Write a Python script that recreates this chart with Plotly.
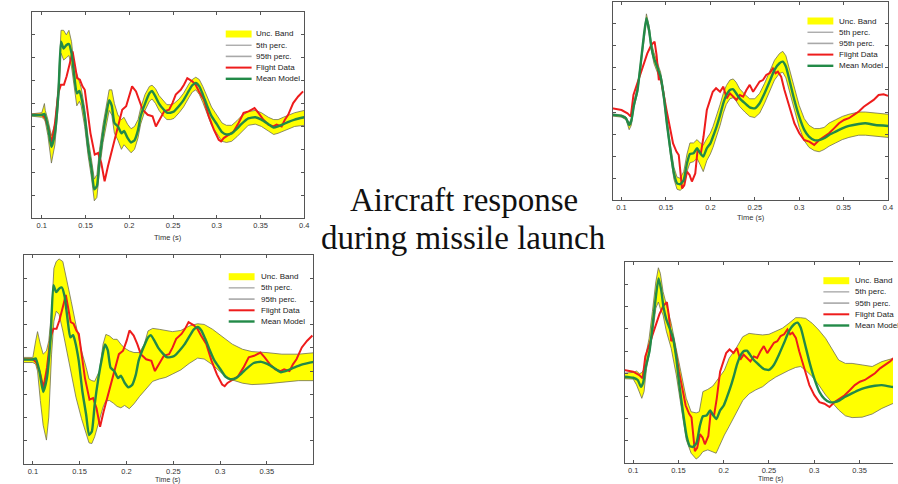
import plotly.graph_objects as go

W, H = 898, 484

# ---------------- data (arbitrary response units, 0..9 per panel) ----------------
# Case A (left panels): mean model, uncertainty band (narrow = top, wide = bottom), flight data
t_mean_a = [0.088, 0.100, 0.103, 0.104, 0.107, 0.111, 0.115, 0.119, 0.122, 0.125,
            0.128, 0.131, 0.134, 0.137, 0.140, 0.143, 0.145, 0.149, 0.153, 0.157,
            0.160, 0.163, 0.166, 0.170, 0.174, 0.177, 0.180, 0.183, 0.187, 0.191,
            0.194, 0.198, 0.202, 0.206, 0.210, 0.213, 0.218, 0.223, 0.226, 0.230,
            0.234, 0.239, 0.243, 0.247, 0.251, 0.257, 0.262, 0.268, 0.272, 0.276,
            0.280, 0.284, 0.289, 0.294, 0.300, 0.306, 0.311, 0.317, 0.323, 0.328,
            0.336, 0.344, 0.351, 0.359, 0.365, 0.370, 0.376, 0.382, 0.389, 0.400]
mean_a = [4.5, 4.5, 4.55, 4.45, 4.0, 3.1, 3.7, 5.45, 7.7, 7.4,
          7.55, 7.6, 7.2, 6.25, 5.45, 5.55, 5.3, 4.45, 3.1, 2.1,
          1.25, 1.4, 2.55, 3.7, 4.6, 5.15, 4.9, 4.15, 4.0, 3.7,
          3.8, 3.5, 3.3, 3.4, 3.85, 4.45, 5.0, 5.45, 5.55, 5.3,
          5.0, 4.75, 4.6, 4.6, 4.65, 4.9, 5.15, 5.55, 5.8, 5.9,
          5.75, 5.4, 4.9, 4.45, 4.1, 3.75, 3.65, 3.7, 3.9, 4.1,
          4.35, 4.4, 4.3, 4.1, 3.95, 4.0, 4.1, 4.2, 4.3, 4.4]
p5_a_narrow = [4.45, 4.4, 4.3, 4.2, 3.6, 2.4, 3.2, 5.0, 7.2, 6.9,
               7.0, 7.1, 6.6, 5.8, 4.9, 5.1, 4.9, 4.0, 2.7, 1.7,
               0.75, 0.9, 2.1, 3.3, 4.2, 4.7, 4.5, 3.7, 3.4, 3.0,
               3.2, 3.0, 2.85, 3.0, 3.5, 4.1, 4.7, 5.1, 5.2, 5.0,
               4.7, 4.45, 4.3, 4.3, 4.35, 4.6, 4.85, 5.25, 5.5, 5.6,
               5.4, 5.05, 4.5, 4.05, 3.7, 3.35, 3.3, 3.35, 3.55, 3.75,
               4.05, 4.1, 4.0, 3.8, 3.65, 3.7, 3.8, 3.9, 4.0, 4.05]
p95_a_narrow = [4.55, 4.6, 5.0, 4.7, 4.3, 3.6, 4.1, 5.9, 8.2, 8.2,
                8.0, 8.2, 7.7, 6.6, 6.3, 5.9, 5.7, 4.8, 3.5, 2.5,
                1.7, 1.9, 3.0, 4.1, 5.0, 5.6, 5.6, 5.0, 4.5, 4.3,
                4.4, 4.1, 3.9, 4.0, 4.3, 4.8, 5.4, 5.75, 5.8, 5.65,
                5.35, 5.1, 4.95, 4.95, 5.0, 5.2, 5.45, 5.85, 6.05, 6.15,
                6.05, 5.75, 5.3, 4.85, 4.5, 4.15, 4.05, 4.05, 4.25, 4.45,
                4.65, 4.7, 4.6, 4.4, 4.3, 4.3, 4.4, 4.5, 4.6, 4.7]
t_band_a_wide = [0.088, 0.100, 0.103, 0.105, 0.108, 0.111, 0.1145, 0.117, 0.120, 0.1225,
                 0.125, 0.128, 0.132, 0.136, 0.141, 0.146, 0.152, 0.157, 0.160, 0.163,
                 0.166, 0.171, 0.175, 0.178, 0.182, 0.186, 0.190, 0.194, 0.198, 0.203,
                 0.208, 0.214, 0.219, 0.223, 0.228, 0.235, 0.242, 0.249, 0.258, 0.267,
                 0.276, 0.283, 0.292, 0.302, 0.313, 0.324, 0.334, 0.349, 0.366, 0.384, 0.400]
p5_a_wide = [4.37, 4.37, 4.3, 4.0, 2.73, 1.67, 1.03, 2.02, 4.73, 6.15,
             6.58, 6.44, 5.73, 4.87, 3.87, 2.88, 1.95, 1.24, 0.91, 0.88,
             1.17, 1.88, 2.45, 2.73, 2.73, 2.62, 2.48, 2.42, 2.52, 2.38,
             2.59, 2.91, 3.16, 3.33, 3.56, 3.66, 3.73, 3.87, 4.05, 4.33,
             4.56, 4.52, 4.27, 3.9, 3.62, 3.48, 3.42, 3.45, 3.52, 3.59, 3.59]
p95_a_wide = [4.59, 4.59, 5.3, 5.7, 5.16, 4.73, 4.87, 5.3, 6.58, 8.43,
              8.72, 8.83, 8.72, 8.0, 7.0, 6.0, 4.87, 4.16, 3.66, 3.59,
              3.56, 4.0, 5.16, 5.58, 5.51, 5.37, 5.37, 5.16, 4.99, 4.87,
              4.8, 4.8, 5.16, 5.73, 5.84, 5.8, 5.75, 5.7, 5.75, 5.94,
              6.04, 6.01, 5.8, 5.51, 5.16, 4.94, 4.84, 4.8, 4.73, 4.73, 4.79]
t_flight_a = [0.088, 0.1, 0.1038, 0.1076, 0.1113, 0.1151, 0.1189, 0.1219, 0.1253, 0.1284,
              0.1321, 0.1352, 0.1378, 0.1404, 0.1435, 0.1465, 0.1491, 0.1518, 0.1556, 0.1605,
              0.1643, 0.168, 0.1718, 0.1756, 0.1813, 0.1869, 0.1919, 0.1964, 0.2002, 0.2032,
              0.2077, 0.2115, 0.2153, 0.221, 0.2266, 0.2304, 0.2342, 0.2399, 0.2455, 0.2493,
              0.2531, 0.2588, 0.2625, 0.2663, 0.272, 0.2758, 0.2796, 0.2852, 0.2909, 0.2966,
              0.3022, 0.3049, 0.3079, 0.3136, 0.3192, 0.3249, 0.3306, 0.3363, 0.3431, 0.3476,
              0.3533, 0.3589, 0.3646, 0.3684, 0.3741, 0.3778, 0.3816, 0.3873, 0.393, 0.3986]
flight_a = [4.51, 4.51, 4.37, 3.93, 3.28, 4.15, 5.46, 5.82, 5.82, 6.19,
            6.77, 7.28, 6.70, 6.11, 6.04, 5.75, 5.60, 4.73, 3.71, 2.77,
            2.84, 2.40, 1.60, 2.26, 3.13, 4.00, 4.73, 4.88, 5.31, 5.75,
            5.53, 5.17, 4.73, 4.51, 4.44, 4.00, 4.29, 4.66, 4.73, 5.02,
            5.39, 5.60, 5.82, 6.11, 5.97, 5.82, 5.53, 5.17, 4.44, 3.86,
            3.42, 3.35, 3.49, 3.64, 3.78, 4.15, 4.59, 4.66, 4.80, 4.59,
            4.29, 4.08, 4.00, 4.08, 4.00, 4.29, 4.51, 5.02, 5.31, 5.53]

# Case B (right panels)
t_mean_b = [0.089, 0.100, 0.105, 0.1086, 0.111, 0.114, 0.118, 0.1216, 0.125, 0.128,
            0.131, 0.1335, 0.1365, 0.140, 0.144, 0.1476, 0.151, 0.155, 0.159, 0.1625,
            0.166, 0.170, 0.1737, 0.177, 0.181, 0.185, 0.1886, 0.192, 0.196, 0.200,
            0.203, 0.207, 0.211, 0.2146, 0.218, 0.222, 0.2257, 0.229, 0.233, 0.2388,
            0.2443, 0.250, 0.2555, 0.261, 0.2667, 0.2722, 0.2778, 0.2815, 0.285, 0.289,
            0.2945, 0.300, 0.3057, 0.311, 0.317, 0.3225, 0.328, 0.3336, 0.341, 0.3485,
            0.356, 0.367, 0.3745, 0.3857, 0.400]
mean_b = [3.87, 3.82, 3.72, 3.41, 3.6, 4.32, 5.0, 6.21, 7.42, 8.25,
          7.72, 6.96, 6.44, 6.06, 5.6, 4.70, 3.49, 2.28, 1.22, 0.77,
          0.73, 0.92, 1.68, 2.10, 2.13, 2.36, 2.13, 1.98, 2.36, 2.58,
          2.89, 3.34, 3.87, 4.40, 4.77, 5.0, 5.03, 4.85, 4.62, 4.40,
          4.21, 4.17, 4.40, 4.85, 5.38, 5.91, 6.21, 6.28, 6.06, 5.45,
          4.55, 3.79, 3.19, 2.89, 2.73, 2.73, 2.81, 2.96, 3.11, 3.26,
          3.37, 3.46, 3.49, 3.41, 3.37]
p5_b_narrow = [3.82, 3.77, 3.65, 3.2, 3.4, 4.2, 4.85, 6.05, 7.25, 8.1,
               7.55, 6.8, 6.2, 5.8, 5.4, 4.5, 3.3, 2.05, 0.95, 0.5,
               0.45, 0.6, 1.3, 1.7, 1.75, 1.9, 1.6, 1.3, 1.8, 2.1,
               2.4, 2.85, 3.4, 3.95, 4.35, 4.6, 4.65, 4.5, 4.25, 4.0,
               3.8, 3.75, 3.95, 4.4, 4.9, 5.45, 5.75, 5.8, 5.55, 4.95,
               4.05, 3.3, 2.7, 2.4, 2.25, 2.2, 2.3, 2.45, 2.6, 2.75,
               2.85, 2.95, 2.95, 2.9, 2.85]
p95_b_narrow = [3.92, 3.87, 3.78, 3.5, 3.7, 4.45, 5.15, 6.35, 7.6, 8.45,
                7.9, 7.15, 6.7, 6.3, 5.8, 4.9, 3.7, 2.5, 1.5, 1.05,
                1.0, 1.3, 2.1, 2.6, 2.6, 2.75, 2.6, 2.5, 2.8, 3.05,
                3.35, 3.8, 4.35, 4.85, 5.2, 5.45, 5.5, 5.35, 5.05, 4.8,
                4.6, 4.6, 4.85, 5.3, 5.85, 6.35, 6.65, 6.75, 6.55, 5.95,
                5.05, 4.3, 3.7, 3.4, 3.25, 3.25, 3.3, 3.5, 3.65, 3.8,
                3.9, 4.0, 4.0, 3.95, 3.9]
t_band_b_wide = [0.089, 0.100, 0.1037, 0.107, 0.1095, 0.112, 0.1147, 0.1176, 0.1212, 0.125,
                 0.1278, 0.130, 0.133, 0.1366, 0.142, 0.1476, 0.153, 0.1586, 0.164, 0.1696,
                 0.173, 0.177, 0.1824, 0.188, 0.1916, 0.195, 0.2007, 0.206, 0.2136, 0.221,
                 0.228, 0.2355, 0.243, 0.250, 0.2575, 0.2648, 0.272, 0.2795, 0.285, 0.2905,
                 0.2978, 0.305, 0.3125, 0.320, 0.327, 0.3344, 0.3418, 0.353, 0.364, 0.3747,
                 0.3875, 0.400]
p5_b_wide = [3.78, 3.76, 3.5, 3.13, 2.9, 3.2, 4.24, 4.84, 5.73, 6.92,
             7.2, 6.9, 6.62, 5.9, 5.13, 3.94, 2.5, 1.05, 0.45, 0.19,
             0.3, 0.52, 0.6, 0.52, 0.45, 0.75, 1.26, 1.65, 2.25, 2.8,
             3.1, 3.28, 3.42, 3.65, 3.85, 4.02, 4.15, 4.28, 4.32, 4.15,
             3.87, 3.5, 3.05, 2.7, 2.38, 2.12, 2.04, 2.06, 2.2, 2.45,
             2.68, 2.8]
p95_b_wide = [4.02, 4.06, 4.12, 4.0, 4.05, 4.2, 4.99, 5.58, 6.77, 8.1,
              8.73, 8.48, 7.66, 7.07, 6.25, 5.1, 3.94, 2.9, 2.3, 2.25,
              2.3, 3.2, 3.3, 3.45, 3.65, 3.85, 4.15, 4.69, 5.13, 5.65,
              5.8, 5.76, 5.73, 5.76, 5.88, 6.03, 6.25, 6.5, 6.5, 6.47,
              6.25, 5.95, 5.58, 5.06, 4.61, 4.46, 4.46, 4.39, 4.32, 4.54,
              4.69, 4.75]
t_flight_b = [0.089, 0.1, 0.1067, 0.1104, 0.1134, 0.116, 0.1197, 0.1234, 0.129, 0.1335,
              0.1372, 0.1394, 0.142, 0.1439, 0.1469, 0.1506, 0.1543, 0.158, 0.1618, 0.1644,
              0.1681, 0.1707, 0.1737, 0.1766, 0.1792, 0.183, 0.1856, 0.1893, 0.1923, 0.196,
              0.1997, 0.2027, 0.2064, 0.2109, 0.2146, 0.2183, 0.222, 0.2257, 0.2295, 0.2332,
              0.2369, 0.2406, 0.2443, 0.2481, 0.2518, 0.2555, 0.2592, 0.2629, 0.2667, 0.2704,
              0.2734, 0.276, 0.2797, 0.2834, 0.289, 0.2946, 0.3001, 0.3057, 0.3113, 0.3169,
              0.3225, 0.328, 0.3336, 0.3392, 0.3448, 0.3504, 0.3559, 0.3615, 0.3671, 0.3727,
              0.3783, 0.3838, 0.3894, 0.395, 0.4]
flight_b = [4.17, 4.09, 3.94, 3.79, 4.77, 5.08, 5.53, 6.06, 6.66, 7.04,
            7.19, 6.59, 5.45, 5.60, 5.0, 4.09, 3.34, 2.58, 2.21, 2.05,
            0.54, 0.69, 1.30, 1.15, 0.85, 1.22, 2.28, 2.13, 2.89, 4.09,
            4.55, 4.92, 5.08, 4.92, 5.15, 4.62, 4.85, 4.70, 4.55, 4.77,
            4.70, 5.0, 5.23, 4.92, 5.15, 5.38, 5.45, 5.68, 5.76, 5.98,
            5.76, 5.83, 5.60, 5.0, 4.24, 3.49, 3.04, 2.73, 2.66, 2.51,
            2.73, 2.89, 3.04, 3.26, 3.49, 3.64, 3.72, 3.87, 4.02, 4.24,
            4.40, 4.55, 4.77, 4.80, 4.73]

x_ticks_full = [0.1, 0.15, 0.2, 0.25, 0.3, 0.35, 0.4]
x_labels_full = ["0.1", "0.15", "0.2", "0.25", "0.3", "0.35", "0.4"]
y_ticks = [0, 1, 2, 3, 4, 5, 6, 7, 8, 9]
legend_labels = ["Unc. Band", "5th perc.", "95th perc.", "Flight Data", "Mean Model"]
title_lines = ["Aircraft response", "during missile launch"]
x_title = "Time (s)"

# ---------------- styling ----------------
YELLOW = "#ffff00"
EDGE = "#6e6e55"
RED = "#ee1c1c"
GREEN = "#228a48"
AXIS = "#555555"
FONT = "Arial, Liberation Sans, sans-serif"


def fx(p):
    return p / W


def fy(p):
    return 1 - p / H


panels = [
    dict(t_mean=t_mean_a, mean=mean_a, t_band=t_mean_a, lo=p5_a_narrow, hi=p95_a_narrow,
         t_fl=t_flight_a, fl=flight_a, dom=(32, 306, 12, 218), xr=[0.0886, 0.4], nt=7,
         leg=(227, 34, 255), xt=(169, 237, 7.5)),
    dict(t_mean=t_mean_b, mean=mean_b, t_band=t_mean_b, lo=p5_b_narrow, hi=p95_b_narrow,
         t_fl=t_flight_b, fl=flight_b, dom=(616, 893, 1.7, 200.3), xr=[0.0899, 0.4], nt=7,
         leg=(812, 21, 842), xt=(755, 218, 7.5)),
    dict(t_mean=t_mean_a, mean=mean_a, t_band=t_band_a_wide, lo=p5_a_wide, hi=p95_a_wide,
         t_fl=t_flight_a, fl=flight_a, dom=(24, 315, 255, 464), xr=[0.0904, 0.3995], nt=6,
         leg=(230, 276.7, 260), xt=(168, 480, 7)),
    dict(t_mean=t_mean_b, mean=mean_b, t_band=t_band_b_wide, lo=p5_b_wide, hi=p95_b_wide,
         t_fl=t_flight_b, fl=flight_b, dom=(628, 898, 261.7, 463.3), xr=[0.0904, 0.387], nt=6,
         leg=(828, 280.7, 858), xt=(775, 479, 7)),
]

fig = go.Figure()
layout = dict(width=W, height=H, margin=dict(l=0, r=0, t=0, b=0), autosize=False,
              paper_bgcolor="white", plot_bgcolor="white", showlegend=False,
              font=dict(family=FONT, size=8, color="#333333"))
shapes = []
annotations = []

for i, p in enumerate(panels, start=1):
    xa = "x" if i == 1 else f"x{i}"
    ya = "y" if i == 1 else f"y{i}"
    fig.add_trace(go.Scatter(x=p["t_band"], y=p["lo"], xaxis=xa, yaxis=ya, mode="lines",
                             line=dict(color=EDGE, width=0.8), hoverinfo="skip"))
    fig.add_trace(go.Scatter(x=p["t_band"], y=p["hi"], xaxis=xa, yaxis=ya, mode="lines",
                             line=dict(color=EDGE, width=0.8), fill="tonexty",
                             fillcolor=YELLOW, hoverinfo="skip"))
    fig.add_trace(go.Scatter(x=p["t_fl"], y=p["fl"], xaxis=xa, yaxis=ya, mode="lines",
                             line=dict(color=RED, width=2)))
    fig.add_trace(go.Scatter(x=p["t_mean"], y=p["mean"], xaxis=xa, yaxis=ya, mode="lines",
                             line=dict(color=GREEN, width=2.4, shape="spline", smoothing=0.5)))

    x0, x1, yt, yb = p["dom"]
    kx = "xaxis" if i == 1 else f"xaxis{i}"
    ky = "yaxis" if i == 1 else f"yaxis{i}"
    layout[kx] = dict(domain=[fx(x0), min(fx(x1), 1.0)], range=p["xr"], anchor=ya,
                      tickmode="array", tickvals=x_ticks_full[:p["nt"]],
                      ticktext=x_labels_full[:p["nt"]],
                      ticks="inside", ticklen=3, tickcolor=AXIS, showline=True,
                      linecolor=AXIS, linewidth=1, mirror="ticks", showgrid=False,
                      zeroline=False, tickfont=dict(size=7.5, color="#333333"))
    layout[ky] = dict(domain=[fy(yb), fy(yt)], range=[0, 9], anchor=xa,
                      tickmode="array", tickvals=y_ticks, showticklabels=False,
                      ticks="inside", ticklen=3, tickcolor=AXIS, showline=True,
                      linecolor=AXIS, linewidth=1, mirror=("ticks" if i != 4 else False),
                      showgrid=False, zeroline=False)

    annotations.append(dict(x=fx(p["xt"][0]), y=fy(p["xt"][1]), xref="paper", yref="paper",
                            text=x_title, showarrow=False, xanchor="center", yanchor="middle",
                            font=dict(size=p["xt"][2], color="#333333", family=FONT)))

    lx, ly, tx = p["leg"]
    step = 11.2
    for k, lab in enumerate(legend_labels):
        yy = ly + k * step
        if k == 0:
            shapes.append(dict(type="rect", xref="paper", yref="paper", x0=fx(lx), x1=fx(lx + 26),
                               y0=fy(yy + 3.5), y1=fy(yy - 3.5), fillcolor=YELLOW,
                               line=dict(width=0)))
        else:
            col, wd = [(None, 0), ("#8a8a8a", 1), ("#a8a8a8", 1.6), (RED, 2), (GREEN, 2.4)][k]
            shapes.append(dict(type="line", xref="paper", yref="paper", x0=fx(lx), x1=fx(lx + 26),
                               y0=fy(yy), y1=fy(yy), line=dict(color=col, width=wd)))
        annotations.append(dict(x=fx(tx), y=fy(yy), xref="paper", yref="paper", text=lab,
                                showarrow=False, xanchor="left", yanchor="middle",
                                font=dict(size=8, color="#222222", family=FONT)))

annotations.append(dict(x=fx(467), y=fy(200), xref="paper", yref="paper", text=title_lines[0],
                        showarrow=False, xanchor="center", yanchor="middle",
                        font=dict(size=33, color="#111111", family="Liberation Serif, Times New Roman, serif")))
annotations.append(dict(x=fx(466), y=fy(238), xref="paper", yref="paper", text=title_lines[1],
                        showarrow=False, xanchor="center", yanchor="middle",
                        font=dict(size=33, color="#111111", family="Liberation Serif, Times New Roman, serif")))

layout["shapes"] = shapes
layout["annotations"] = annotations
fig.update_layout(**layout)
fig.write_html("out.html", config={"displayModeBar": False},
               post_script="document.body.style.margin='0';document.body.style.overflow='hidden';")
